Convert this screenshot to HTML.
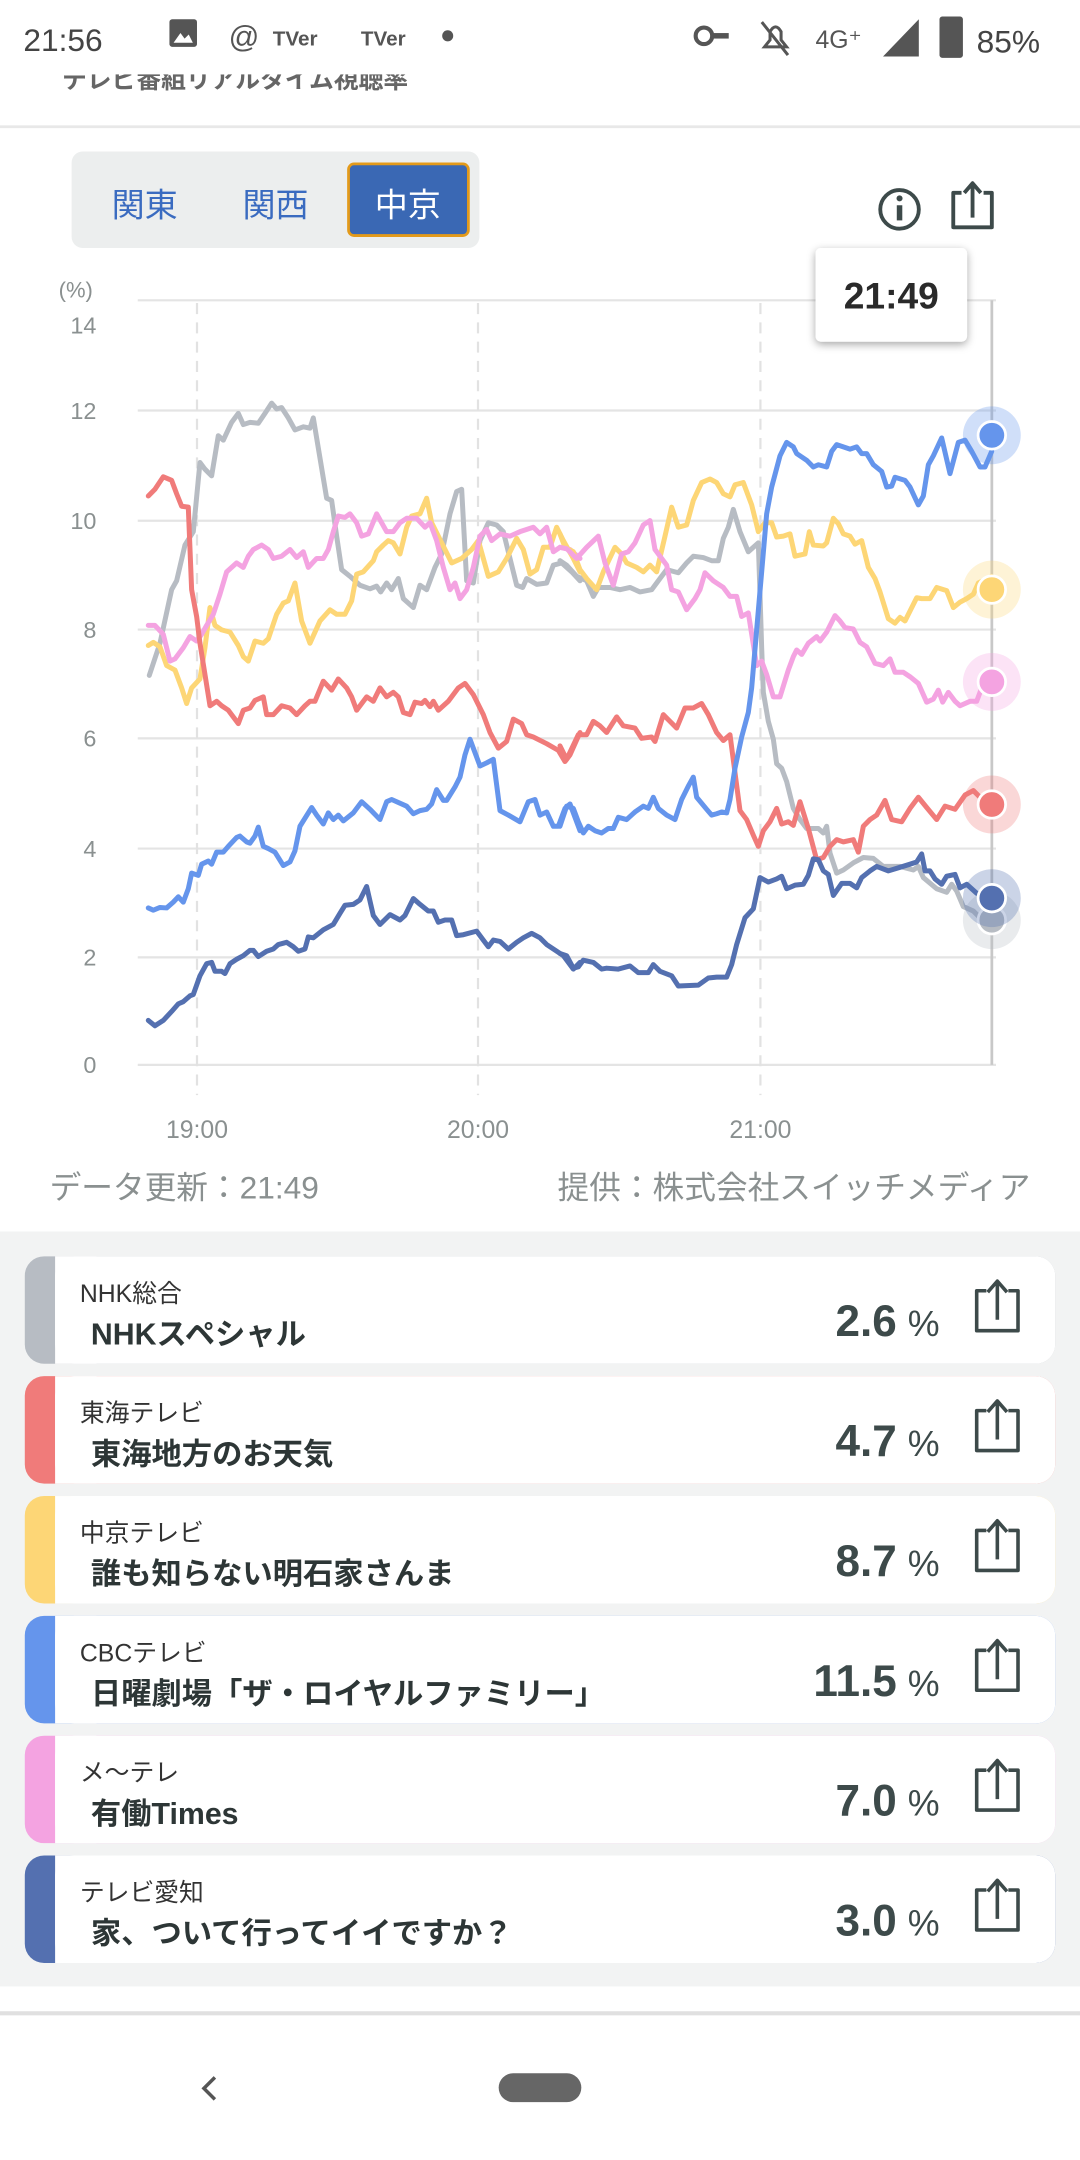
<!DOCTYPE html>
<html><head><meta charset="utf-8"><style>
html,body{margin:0;padding:0;background:#fff;}
svg{display:block;}
text{font-family:"Liberation Sans","Noto Sans CJK JP",sans-serif;}
.ln{fill:none;stroke-width:5;stroke-linejoin:round;stroke-linecap:round;}
</style></head><body>
<svg width="1080" height="2160" viewBox="0 0 784 1568" xmlns="http://www.w3.org/2000/svg">
<defs>
<filter id="sh" x="-20%" y="-20%" width="140%" height="150%"><feDropShadow dx="0" dy="2" stdDeviation="3" flood-color="#000" flood-opacity="0.35"/></filter>
</defs>
<rect width="784" height="1568" fill="#fff"/>
<!-- title (cut) -->
<text x="45" y="64" font-size="18" fill="#666" font-weight="bold">テレビ番組リアルタイム視聴率</text>
<rect x="0" y="0" width="784" height="54" fill="#fff"/>
<!-- status bar -->
<text x="17" y="37" font-size="23" fill="#444">21:56</text>
<rect x="123" y="14" width="20" height="20" rx="2" fill="#555"/>
<path d="M126 31 L131 24 L134 28 L137 25 L140 31Z" fill="#fff"/>
<text x="166" y="34" font-size="22" fill="#555">@</text>
<text x="198" y="33" font-size="15" fill="#555" font-weight="bold">TVer</text>
<text x="262" y="33" font-size="15" fill="#555" font-weight="bold">TVer</text>
<circle cx="325" cy="26" r="4" fill="#555"/>
<circle cx="511" cy="26" r="6" fill="none" stroke="#555" stroke-width="3"/><rect x="516" y="24" width="13" height="4" fill="#555"/>
<path d="M553 16 L572 40 M555 34 L571 34 L567 29 L567 23 Q563 16 559 23 L559 29Z" fill="none" stroke="#555" stroke-width="2.2"/>
<text x="592" y="35" font-size="18" fill="#555">4G⁺</text>
<path d="M641 41 L667 14 L667 41Z" fill="#555"/>
<rect x="682" y="12" width="17" height="30" rx="2" fill="#555"/>
<text x="709" y="38" font-size="23" fill="#444">85%</text>
<rect x="0" y="91" width="784" height="2" fill="#e8e8e8"/>
<!-- segmented -->
<rect x="52" y="110" width="296" height="70" rx="8" fill="#eceeee"/>
<rect x="253" y="119" width="87" height="52" rx="4" fill="#3a68b4" stroke="#e39a1a" stroke-width="2"/>
<text x="105" y="157" font-size="24" fill="#3a6bc0" text-anchor="middle">関東</text>
<text x="200" y="157" font-size="24" fill="#3a6bc0" text-anchor="middle">関西</text>
<text x="296" y="157" font-size="24" fill="#fff" text-anchor="middle">中京</text>
<!-- icons -->
<circle cx="653" cy="152" r="14" fill="none" stroke="#3d4a4a" stroke-width="2.8"/>
<circle cx="653" cy="144" r="2.2" fill="#3d4a4a"/>
<rect x="651" y="149" width="4" height="11" fill="#3d4a4a"/>
<path d="M698 140 L692 140 L692 165 L720 165 L720 140 L714 140 M706 158 L706 134 M700 140 L706 133 L712 140" fill="none" stroke="#3d4a4a" stroke-width="2.8" stroke-linejoin="round"/>
<!-- axes -->
<text x="55" y="216" font-size="16" fill="#8a9090" text-anchor="middle">(%)</text>
<g font-size="17" fill="#8a9090" text-anchor="end">
<text x="70" y="242">14</text><text x="70" y="304">12</text><text x="70" y="384">10</text><text x="70" y="463">8</text><text x="70" y="542">6</text><text x="70" y="622">4</text><text x="70" y="701">2</text><text x="70" y="779">0</text>
</g>
<g stroke="#e4e4e4" stroke-width="1.6">
<line x1="100" y1="218" x2="723" y2="218"/><line x1="100" y1="298" x2="723" y2="298"/><line x1="100" y1="378" x2="723" y2="378"/><line x1="100" y1="457" x2="723" y2="457"/><line x1="100" y1="536" x2="723" y2="536"/><line x1="100" y1="616" x2="723" y2="616"/><line x1="100" y1="695" x2="723" y2="695"/><line x1="100" y1="773" x2="723" y2="773"/>
</g>
<g stroke="#e2e2e2" stroke-width="1.6" stroke-dasharray="8,6">
<line x1="143" y1="220" x2="143" y2="795"/><line x1="347" y1="220" x2="347" y2="795"/><line x1="552" y1="220" x2="552" y2="795"/>
</g>
<line x1="720" y1="218" x2="720" y2="773" stroke="#c8c8c8" stroke-width="2"/>
<g font-size="18" fill="#8a9090" text-anchor="middle">
<text x="143" y="826">19:00</text><text x="347" y="826">20:00</text><text x="552" y="826">21:00</text>
</g>
<!-- lines part 1 -->
<g transform="translate(101.6,275.8) scale(0.242,0.324)">
<polyline class="ln" vector-effect="non-scaling-stroke" stroke="#b7bcc3" points="28,662 60,590 95,470 110,450 135,370 160,340 180,185 195,200 215,215 235,125 250,135 275,95 295,75 310,100 330,95 355,97 375,75 395,52 410,65 425,62 445,85 465,112 490,105 510,108 520,85 540,175 560,265 575,270 590,350 605,425 630,440 660,460 690,468 710,462 722,475 740,455 755,470 775,445 790,490 820,510 840,460 860,470 885,420 905,390 930,300 950,250 965,245 980,450 1000,455 1020,360 1045,320 1070,325 1090,340 1110,400 1130,460 1148,465 1160,445 1190,458 1220,455 1240,415 1265,410 1295,430 1320,450"/>
<polyline class="ln" vector-effect="non-scaling-stroke" stroke="#fdd676" points="25,595 40,588 60,598 80,640 105,650 125,690 140,725 155,690 180,670 195,600 210,510 225,550 245,560 270,565 295,595 310,620 325,630 345,585 370,590 385,580 410,525 430,500 445,495 465,455 485,540 510,590 540,540 570,515 590,525 615,525 635,495 650,435 670,430 700,405 710,385 730,370 745,360 760,365 780,390 800,330 815,305 840,300 860,265 875,320 905,365 935,410 950,405 965,400 995,380 1015,360 1030,400 1045,440 1075,430 1100,400 1130,355 1150,380 1170,435 1190,425 1210,375 1230,375 1250,330 1270,360 1300,400 1320,430"/>
<polyline class="ln" vector-effect="non-scaling-stroke" stroke="#f4a3e1" points="25,550 45,550 70,570 90,630 105,625 130,600 150,575 170,585 185,570 200,550 220,525 240,480 260,430 290,410 310,420 325,395 340,380 365,370 385,380 400,400 425,395 450,380 470,398 490,385 505,420 530,400 550,400 565,380 580,340 595,305 615,308 630,300 650,320 665,350 685,345 710,300 740,340 760,340 780,320 800,310 830,310 855,330 870,320 890,360 910,420 930,470 945,455 960,490 980,470 1000,420 1020,350 1040,335 1055,360 1080,345 1110,350 1140,340 1180,330 1200,345 1220,330 1240,385 1260,375 1290,380 1320,400"/>
<polyline class="ln" vector-effect="non-scaling-stroke" stroke="#f07b7a" points="25,260 45,245 70,217 95,225 110,255 125,283 145,285 155,470 170,530 180,590 195,660 210,730 230,720 245,730 265,740 295,770 310,740 330,735 345,718 370,710 380,750 400,750 425,730 450,735 470,750 495,730 510,720 525,720 550,675 575,695 595,670 620,690 635,710 650,740 680,710 700,720 720,690 740,710 760,700 775,710 790,745 810,750 825,722 845,725 855,718 870,732 880,720 895,740 925,720 955,690 975,680 1000,705 1030,750 1050,790 1075,825 1100,810 1120,760 1145,770 1160,795 1180,800 1220,815 1255,830 1275,855 1290,840 1320,790"/>
<polyline class="ln" vector-effect="non-scaling-stroke" stroke="#6595ec" points="25,1183 40,1188 60,1182 80,1183 100,1170 115,1158 130,1170 145,1140 155,1105 175,1110 185,1085 205,1078 215,1085 230,1058 250,1058 265,1045 290,1025 300,1022 320,1035 330,1038 345,1022 355,1002 370,1045 385,1050 405,1058 430,1088 450,1080 465,1055 480,1000 515,958 530,975 550,995 565,970 580,985 595,975 610,988 640,970 665,945 690,962 720,985 740,945 755,940 800,955 820,972 840,965 860,962 875,950 890,918 910,942 920,942 945,912 960,890 975,840 990,805 1005,835 1020,865 1040,858 1060,850 1080,965 1105,975 1140,990 1165,945 1185,940 1200,975 1220,968 1240,1000 1255,1000 1275,960 1290,950 1320,1010"/>
<polyline class="ln" vector-effect="non-scaling-stroke" stroke="#5470b0" points="25,1435 45,1447 70,1435 95,1415 115,1398 130,1393 150,1380 160,1377 180,1335 200,1308 215,1305 225,1325 245,1325 255,1330 270,1308 290,1298 310,1290 330,1278 340,1278 355,1292 380,1280 400,1275 415,1265 440,1260 460,1270 475,1280 495,1275 505,1248 520,1250 550,1232 580,1220 600,1195 615,1177 640,1175 660,1165 680,1135 700,1200 720,1220 750,1198 780,1210 795,1200 820,1162 840,1175 865,1190 880,1190 895,1215 915,1210 935,1210 950,1245 970,1243 1010,1235 1030,1255 1045,1270 1060,1255 1080,1258 1105,1275 1130,1260 1150,1250 1175,1240 1200,1250 1220,1265 1250,1280 1270,1290 1300,1320 1320,1305"/>
</g>
<!-- lines part 2 -->
<g transform="translate(406.5,275.8) scale(0.242,0.324)">
<polyline class="ln" vector-effect="non-scaling-stroke" stroke="#b7bcc3" points="0,405 20,415 50,440 80,450 100,485 115,465 150,465 180,470 210,465 240,475 275,470 300,445 320,425 355,432 380,410 400,395 430,398 455,405 475,405 490,355 505,330 520,290 540,340 565,385 595,365 600,480 605,600 610,700 625,765 640,805 650,860 665,870 680,900 700,960 720,985 740,1005 775,1005 790,1015 800,1000 810,1060 830,1105 850,1098 880,1082 910,1070 940,1072 970,1090 1020,1090 1060,1098 1075,1090 1090,1115 1130,1140 1160,1148 1175,1130 1190,1145 1210,1180 1240,1190 1260,1205 1295,1210"/>
<polyline class="ln" vector-effect="non-scaling-stroke" stroke="#fdd676" points="0,345 15,375 40,385 60,425 80,445 110,470 130,430 165,375 185,390 200,410 230,420 250,430 270,415 290,430 315,350 335,285 355,330 380,325 400,270 425,230 450,222 470,230 490,255 510,262 525,235 550,230 575,280 595,340 615,320 635,320 650,352 670,350 690,345 705,395 735,390 748,340 760,370 790,372 800,365 820,310 835,322 850,345 870,350 885,368 905,360 925,420 945,445 960,475 985,535 1005,545 1020,532 1035,540 1070,488 1085,490 1110,490 1130,465 1160,472 1180,510 1200,498 1220,490 1240,480 1255,455 1295,440"/>
<polyline class="ln" vector-effect="non-scaling-stroke" stroke="#f4a3e1" points="0,375 20,378 50,400 80,375 115,350 135,410 160,460 185,390 205,385 225,365 250,325 270,315 285,380 320,415 335,470 355,475 380,515 405,490 420,470 435,432 460,450 490,465 510,485 530,485 545,530 565,522 590,640 605,630 620,660 640,710 660,710 685,650 700,620 710,605 725,615 745,590 770,575 780,585 800,565 825,528 840,540 855,555 880,558 900,588 920,598 945,635 970,640 990,625 1005,655 1030,655 1050,665 1075,680 1100,722 1120,715 1135,695 1148,722 1165,700 1185,720 1200,730 1230,720 1250,720 1270,680"/>
<polyline class="ln" vector-effect="non-scaling-stroke" stroke="#f07b7a" points="0,820 20,850 55,795 80,795 100,765 120,775 140,790 170,755 190,775 225,780 245,803 275,800 285,810 310,750 330,765 350,780 375,735 400,735 425,725 445,750 470,790 490,808 510,795 525,880 540,965 560,985 580,1020 595,1045 610,1010 630,990 650,960 665,995 685,990 700,998 720,945 745,1005 770,1075 790,1070 810,1045 830,1030 850,1035 880,1030 895,1058 910,1000 930,985 950,975 975,942 995,985 1025,990 1050,960 1075,935 1100,958 1130,985 1155,955 1185,962 1215,930 1240,920 1260,935 1295,950"/>
<polyline class="ln" vector-effect="non-scaling-stroke" stroke="#5470b0" points="0,1285 20,1290 40,1318 55,1315 70,1300 100,1305 125,1320 140,1318 175,1320 210,1313 235,1328 265,1328 280,1310 300,1325 335,1335 355,1358 415,1356 445,1340 470,1338 500,1338 515,1310 530,1265 555,1205 580,1185 600,1115 625,1125 650,1118 665,1112 680,1140 705,1132 730,1130 745,1110 760,1073 775,1075 790,1100 805,1108 820,1155 845,1128 870,1128 890,1138 905,1115 930,1100 950,1090 985,1100 1020,1092 1050,1085 1070,1080 1085,1062 1095,1100 1110,1100 1125,1118 1145,1130 1160,1112 1185,1108 1200,1138 1220,1130 1250,1150 1295,1160"/>
<polyline class="ln" vector-effect="non-scaling-stroke" stroke="#6595ec" points="0,1000 20,955 40,960 55,990 70,1015 85,1000 105,1010 125,1015 145,1005 160,1005 175,980 200,985 225,968 250,955 265,960 280,935 295,960 320,975 345,985 365,940 385,910 400,890 410,935 440,962 455,975 470,972 485,968 500,970 510,940 525,870 545,800 565,745 575,690 590,560 605,430 620,300 635,240 660,170 680,140 700,150 710,165 740,180 760,195 775,190 800,195 815,160 830,145 870,155 890,150 905,165 920,165 940,190 965,205 980,240 995,238 1005,218 1035,225 1050,240 1075,280 1090,260 1105,190 1120,170 1145,130 1170,210 1195,140 1215,135 1235,160 1260,195 1275,195 1295,160"/>
</g>
<!-- end dots -->
<g stroke="#fff" stroke-width="2">
<circle cx="720" cy="668" r="21" fill="#b7bcc3" fill-opacity="0.3" stroke="none"/><circle cx="720" cy="668" r="10" fill="#b7bcc3"/>
<circle cx="720" cy="652" r="21" fill="#5470b0" fill-opacity="0.3" stroke="none"/><circle cx="720" cy="652" r="10" fill="#5470b0"/>
<circle cx="720" cy="584" r="21" fill="#f07b7a" fill-opacity="0.3" stroke="none"/><circle cx="720" cy="584" r="10" fill="#f07b7a"/>
<circle cx="720" cy="495" r="21" fill="#f4a3e1" fill-opacity="0.3" stroke="none"/><circle cx="720" cy="495" r="10" fill="#f4a3e1"/>
<circle cx="720" cy="428" r="21" fill="#fdd676" fill-opacity="0.3" stroke="none"/><circle cx="720" cy="428" r="10" fill="#fdd676"/>
<circle cx="720" cy="316" r="21" fill="#6595ec" fill-opacity="0.3" stroke="none"/><circle cx="720" cy="316" r="10" fill="#6595ec"/>
</g>
<!-- tooltip -->
<rect x="592" y="180" width="110" height="68" rx="4" fill="#fff" filter="url(#sh)"/>
<text x="647" y="224" font-size="27" font-weight="bold" fill="#2a2a2a" text-anchor="middle">21:49</text>
<!-- footer -->
<text x="36" y="870" font-size="23" fill="#8a9090">データ更新：21:49</text>
<text x="748" y="870" font-size="23" fill="#8a9090" text-anchor="end">提供：株式会社スイッチメディア</text>
<rect x="0" y="894" width="784" height="548" fill="#f2f3f3"/>
<!-- cards -->
<g>
<g transform="translate(0,0)">
<rect x="18" y="912" width="748" height="78" rx="14" fill="#b7bcc3"/><rect x="40" y="912" width="726" height="78" rx="14" fill="#fff"/><rect x="40" y="912" width="30" height="78" fill="#fff"/>
<text x="58" y="945" font-size="18" fill="#333">NHK総合</text><text x="66" y="976" font-size="22" font-weight="bold" fill="#2d3636">NHKスペシャル</text>
<text x="651" y="970" font-size="32" font-weight="bold" fill="#3d4a4a" text-anchor="end">2.6</text><text x="659" y="970" font-size="26" fill="#3d4a4a">%</text>
</g>
<g transform="translate(0,87)">
<rect x="18" y="912" width="748" height="78" rx="14" fill="#f07b7a"/><rect x="40" y="912" width="726" height="78" rx="14" fill="#fff"/><rect x="40" y="912" width="30" height="78" fill="#fff"/>
<text x="58" y="945" font-size="18" fill="#333">東海テレビ</text><text x="66" y="976" font-size="22" font-weight="bold" fill="#2d3636">東海地方のお天気</text>
<text x="651" y="970" font-size="32" font-weight="bold" fill="#3d4a4a" text-anchor="end">4.7</text><text x="659" y="970" font-size="26" fill="#3d4a4a">%</text>
</g>
<g transform="translate(0,174)">
<rect x="18" y="912" width="748" height="78" rx="14" fill="#fdd676"/><rect x="40" y="912" width="726" height="78" rx="14" fill="#fff"/><rect x="40" y="912" width="30" height="78" fill="#fff"/>
<text x="58" y="945" font-size="18" fill="#333">中京テレビ</text><text x="66" y="976" font-size="22" font-weight="bold" fill="#2d3636">誰も知らない明石家さんま</text>
<text x="651" y="970" font-size="32" font-weight="bold" fill="#3d4a4a" text-anchor="end">8.7</text><text x="659" y="970" font-size="26" fill="#3d4a4a">%</text>
</g>
<g transform="translate(0,261)">
<rect x="18" y="912" width="748" height="78" rx="14" fill="#6595ec"/><rect x="40" y="912" width="726" height="78" rx="14" fill="#fff"/><rect x="40" y="912" width="30" height="78" fill="#fff"/>
<text x="58" y="945" font-size="18" fill="#333">CBCテレビ</text><text x="66" y="976" font-size="22" font-weight="bold" fill="#2d3636">日曜劇場「ザ・ロイヤルファミリー」</text>
<text x="651" y="970" font-size="32" font-weight="bold" fill="#3d4a4a" text-anchor="end">11.5</text><text x="659" y="970" font-size="26" fill="#3d4a4a">%</text>
</g>
<g transform="translate(0,348)">
<rect x="18" y="912" width="748" height="78" rx="14" fill="#f4a3e1"/><rect x="40" y="912" width="726" height="78" rx="14" fill="#fff"/><rect x="40" y="912" width="30" height="78" fill="#fff"/>
<text x="58" y="945" font-size="18" fill="#333">メ〜テレ</text><text x="66" y="976" font-size="22" font-weight="bold" fill="#2d3636">有働Times</text>
<text x="651" y="970" font-size="32" font-weight="bold" fill="#3d4a4a" text-anchor="end">7.0</text><text x="659" y="970" font-size="26" fill="#3d4a4a">%</text>
</g>
<g transform="translate(0,435)">
<rect x="18" y="912" width="748" height="78" rx="14" fill="#5470b0"/><rect x="40" y="912" width="726" height="78" rx="14" fill="#fff"/><rect x="40" y="912" width="30" height="78" fill="#fff"/>
<text x="58" y="945" font-size="18" fill="#333">テレビ愛知</text><text x="66" y="976" font-size="22" font-weight="bold" fill="#2d3636">家、ついて行ってイイですか？</text>
<text x="651" y="970" font-size="32" font-weight="bold" fill="#3d4a4a" text-anchor="end">3.0</text><text x="659" y="970" font-size="26" fill="#3d4a4a">%</text>
</g>
</g>
<g fill="none" stroke="#3d4a4a" stroke-width="2.6" stroke-linejoin="round">
<path d="M716 937 L709 937 L709 966 L739 966 L739 937 L732 937 M724 958 L724 931 M717 938 L724 930 L731 938"/>
<path transform="translate(0,87)" d="M716 937 L709 937 L709 966 L739 966 L739 937 L732 937 M724 958 L724 931 M717 938 L724 930 L731 938"/>
<path transform="translate(0,174)" d="M716 937 L709 937 L709 966 L739 966 L739 937 L732 937 M724 958 L724 931 M717 938 L724 930 L731 938"/>
<path transform="translate(0,261)" d="M716 937 L709 937 L709 966 L739 966 L739 937 L732 937 M724 958 L724 931 M717 938 L724 930 L731 938"/>
<path transform="translate(0,348)" d="M716 937 L709 937 L709 966 L739 966 L739 937 L732 937 M724 958 L724 931 M717 938 L724 930 L731 938"/>
<path transform="translate(0,435)" d="M716 937 L709 937 L709 966 L739 966 L739 937 L732 937 M724 958 L724 931 M717 938 L724 930 L731 938"/>
</g>
<!-- bottom nav -->
<rect x="0" y="1460" width="784" height="3" fill="#e0e0e0"/>
<path d="M156 1508 L148 1516 L156 1524" fill="none" stroke="#555" stroke-width="2.5"/>
<rect x="362" y="1505" width="60" height="21" rx="10.5" fill="#666"/>
</svg>
</body></html>
